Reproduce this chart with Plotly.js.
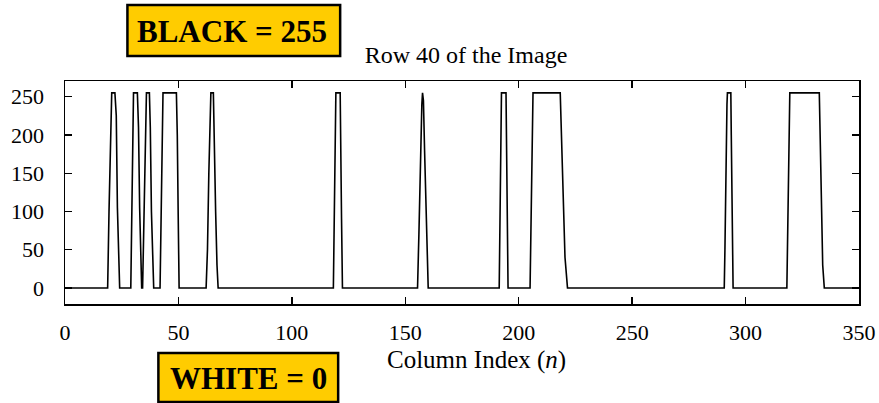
<!DOCTYPE html>
<html>
<head>
<meta charset="utf-8">
<script src="https://cdn.plot.ly/plotly-3.0.1.min.js"></script>
<style>
  html, body { margin: 0; padding: 0; background: #ffffff; }
  #chart { width: 879px; height: 403px; }
</style>
</head>
<body>
<div id="chart"></div>
<script>
// Column index (n) breakpoints of row 40
const columnIndex = [
  0, 18.8, 19.4, 20.1, 20.6, 22.0, 22.6, 23.1, 23.6, 24.1,
  29.0, 29.4, 29.8, 30.2, 31.9, 32.4, 32.9, 33.4, 33.8,
  34.2, 34.7, 35.3, 35.9, 37.2, 37.6, 38.1, 38.6, 39.1,
  41.9, 42.3, 42.8, 43.2, 49.1, 49.5, 49.9, 50.3,
  62.2, 62.8, 63.4, 64.1, 64.3, 65.4, 65.8, 66.4, 67.0, 67.5,
  118.3, 118.7, 119.1, 119.4, 121.3, 121.6, 121.9, 122.3,
  155.4, 156.0, 156.6, 157.3, 157.6, 158.0, 158.5, 159.2, 160.1,
  191.4, 191.7, 192.0, 192.4, 194.4, 194.8, 195.3,
  205.0, 205.4, 205.9, 206.3, 218.3, 218.8, 219.5, 220.4, 221.5,
  290.6, 290.9, 291.2, 291.8, 292.0, 293.5, 293.7, 294.1, 294.5,
  318.2, 318.6, 319.1, 319.5, 332.5, 332.9, 333.4, 334.0, 334.7,
  350
];
// Pixel value (0 = white, 255 = black) at each breakpoint
const pixelValue = [
  0, 0, 100, 205, 255, 255, 225, 105, 40, 0,
  0, 95, 200, 255, 255, 210, 105, 20, 0,
  0, 90, 200, 255, 255, 210, 100, 30, 0,
  0, 100, 200, 255, 255, 200, 95, 0,
  0, 50, 150, 220, 255, 255, 180, 100, 30, 0,
  0, 90, 200, 255, 255, 200, 90, 0,
  0, 70, 170, 240, 255, 245, 180, 90, 0,
  0, 90, 200, 255, 255, 150, 0,
  0, 90, 200, 255, 255, 200, 120, 40, 0,
  0, 50, 150, 240, 255, 255, 200, 90, 0,
  0, 90, 200, 255, 255, 200, 100, 30, 0,
  0
];
const xTickValues = [0, 50, 100, 150, 200, 250, 300, 350];
const yTickValues = [0, 50, 100, 150, 200, 250];
const chartTitle = "Row 40 of the Image";
const xAxisTitle = "Column Index (<i>n</i>)";
const blackLabel = "BLACK = 255";
const whiteLabel = "WHITE = 0";

const serif = "Liberation Serif, Times New Roman, serif";

const trace = {
  x: columnIndex,
  y: pixelValue,
  type: "scatter",
  mode: "lines",
  line: { color: "#000000", width: 1.6 },
  hoverinfo: "skip"
};

const axisCommon = {
  showline: true,
  linecolor: "#000000",
  linewidth: 1.5,
  mirror: "allticks",
  ticks: "inside",
  ticklen: 7,
  tickwidth: 1.3,
  tickcolor: "#000000",
  showgrid: false,
  zeroline: false,
  tickfont: { family: serif, size: 22, color: "#000000" }
};

const layout = {
  width: 879,
  height: 403,
  margin: { l: 64.5, r: 19.5, t: 81, b: 99 },
  paper_bgcolor: "#ffffff",
  plot_bgcolor: "#ffffff",
  showlegend: false,
  title: {
    text: chartTitle,
    font: { family: serif, size: 24, color: "#000000" },
    xref: "container", yref: "container",
    x: 466 / 879, xanchor: "center",
    y: 1 - 55 / 403, yanchor: "middle"
  },
  xaxis: Object.assign({}, axisCommon, {
    range: [0, 350],
    tickvals: xTickValues,
    ticklabelstandoff: 8
  }),
  yaxis: Object.assign({}, axisCommon, {
    range: [-21, 270.5],
    tickvals: yTickValues,
    ticklabelstandoff: 15
  }),
  shapes: [
    {
      type: "rect", xref: "paper", yref: "paper",
      x0: (127 - 64.5) / 795, x1: (340 - 64.5) / 795,
      y0: (304 - 56) / 223, y1: (304 - 5) / 223,
      fillcolor: "#FFCC00",
      line: { color: "#000000", width: 2.5 },
      layer: "above"
    },
    {
      type: "rect", xref: "paper", yref: "paper",
      x0: (158 - 64.5) / 795, x1: (338 - 64.5) / 795,
      y0: (304 - 402) / 223, y1: (304 - 353) / 223,
      fillcolor: "#FFCC00",
      line: { color: "#000000", width: 2.5 },
      layer: "above"
    }
  ],
  annotations: [
    {
      text: xAxisTitle,
      xref: "paper", yref: "paper",
      x: (477 - 64.5) / 795, y: (304 - 360) / 223,
      xanchor: "center", yanchor: "middle",
      showarrow: false,
      font: { family: serif, size: 25, color: "#000000" }
    },
    {
      text: "<b>" + blackLabel + "</b>",
      xref: "paper", yref: "paper",
      x: (232 - 64.5) / 795, y: (304 - 31) / 223,
      xanchor: "center", yanchor: "middle",
      showarrow: false,
      font: { family: serif, size: 31, color: "#000000" }
    },
    {
      text: "<b>" + whiteLabel + "</b>",
      xref: "paper", yref: "paper",
      x: (248 - 64.5) / 795, y: (304 - 378) / 223,
      xanchor: "center", yanchor: "middle",
      showarrow: false,
      font: { family: serif, size: 31, color: "#000000" }
    }
  ]
};

Plotly.newPlot("chart", [trace], layout, { displayModeBar: false, staticPlot: true });
</script>
</body>
</html>
